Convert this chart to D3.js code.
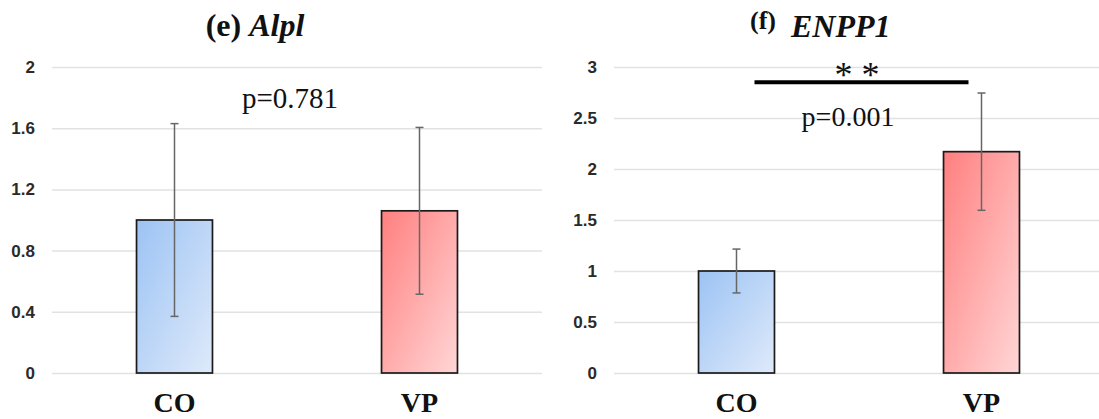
<!DOCTYPE html>
<html>
<head>
<meta charset="utf-8">
<script src="https://cdn.jsdelivr.net/npm/d3@7"></script>
<style>
  body { margin: 0; background: #fff; }
  svg { display: block; }
</style>
</head>
<body>
<svg id="chart"></svg>
<script>
const groups = ["CO", "VP"];
const alplMean = [1.0, 1.06];
const alplErr = [0.63, 0.545];
const alplTicks = [0, 0.4, 0.8, 1.2, 1.6, 2];
const enppMean = [1.0, 2.17];
const enppErr = [0.215, 0.575];
const enppTicks = [0, 0.5, 1, 1.5, 2, 2.5, 3];

const width = 1099;
const height = 419;
const serif = "Liberation Serif, Times New Roman, serif";

const svg = d3.select("#chart")
    .attr("width", width)
    .attr("height", height);

const defs = svg.append("defs");
const gradients = [
    { id: "grad-CO", from: "#9cc3f4", to: "#dfeafa" },
    { id: "grad-VP", from: "#ff7f7f", to: "#ffd6d6" }
];
gradients.forEach(g => {
    const lg = defs.append("linearGradient")
        .attr("id", g.id)
        .attr("x1", "0%").attr("y1", "0%")
        .attr("x2", "100%").attr("y2", "100%");
    lg.append("stop").attr("offset", "0%").attr("stop-color", g.from);
    lg.append("stop").attr("offset", "100%").attr("stop-color", g.to);
});

function panel(opts) {
    const x = d3.scaleBand()
        .domain(groups)
        .range(opts.xRange)
        .paddingInner(0.69)
        .paddingOuter(0.345);
    const y = d3.scaleLinear()
        .domain(opts.yDomain)
        .range([373, 67]);

    const g = svg.append("g");

    // gridlines + tick labels
    const yAxis = g.append("g")
        .attr("transform", `translate(${opts.xRange[0]},0)`)
        .call(d3.axisLeft(y)
            .tickValues(opts.ticks)
            .tickSize(-(opts.xRange[1] - opts.xRange[0]))
            .tickPadding(17)
            .tickFormat(d3.format("")));
    yAxis.select(".domain").remove();
    yAxis.selectAll(".tick line")
        .attr("stroke", "#e2e2e2")
        .attr("stroke-width", 1.5);
    yAxis.selectAll(".tick text")
        .attr("font-family", "Liberation Sans, Arial, sans-serif")
        .attr("font-size", 17)
        .attr("font-weight", "bold")
        .attr("fill", "#2a2a2a");

    // bars
    g.selectAll("rect.bar")
        .data(groups)
        .enter()
        .append("rect")
        .attr("class", "bar")
        .attr("x", d => x(d))
        .attr("width", x.bandwidth())
        .attr("y", (d, i) => y(opts.mean[i]))
        .attr("height", (d, i) => y(0) - y(opts.mean[i]))
        .attr("fill", d => `url(#grad-${d})`)
        .attr("stroke", "#1a1a1a")
        .attr("stroke-width", 1.7);

    // error bars
    const err = g.append("g")
        .attr("stroke", "#666")
        .attr("stroke-width", 1.5)
        .selectAll("g")
        .data(groups)
        .enter()
        .append("g");
    const cx = d => x(d) + x.bandwidth() / 2;
    err.append("line")
        .attr("x1", cx).attr("x2", cx)
        .attr("y1", (d, i) => y(opts.mean[i] + opts.err[i]))
        .attr("y2", (d, i) => y(opts.mean[i] - opts.err[i]));
    [1, -1].forEach(s => {
        err.append("line")
            .attr("x1", d => cx(d) - 4).attr("x2", d => cx(d) + 4)
            .attr("y1", (d, i) => y(opts.mean[i] + s * opts.err[i]))
            .attr("y2", (d, i) => y(opts.mean[i] + s * opts.err[i]));
    });

    // category labels
    g.selectAll("text.cat")
        .data(groups)
        .enter()
        .append("text")
        .attr("class", "cat")
        .attr("x", cx)
        .attr("y", 412)
        .attr("text-anchor", "middle")
        .attr("font-family", serif)
        .attr("font-weight", "bold")
        .attr("font-size", 28)
        .attr("fill", "#111")
        .text(d => d);

    return { g, x, y, cx };
}

// (e) Alpl
const left = panel({
    xRange: [52, 542],
    yDomain: [0, 2],
    ticks: alplTicks,
    mean: alplMean,
    err: alplErr
});
const titleL = left.g.append("text")
    .attr("x", 255)
    .attr("y", 36)
    .attr("text-anchor", "middle")
    .attr("font-family", serif)
    .attr("font-weight", "bold")
    .attr("font-size", 32)
    .attr("fill", "#111");
titleL.append("tspan").text("(e) ");
titleL.append("tspan").attr("font-style", "italic").text("Alpl");
left.g.append("text")
    .attr("x", 290)
    .attr("y", 108)
    .attr("text-anchor", "middle")
    .attr("font-family", serif)
    .attr("font-size", 29)
    .attr("fill", "#111")
    .text("p=0.781");

// (f) ENPP1
const right = panel({
    xRange: [614, 1104],
    yDomain: [0, 3],
    ticks: enppTicks,
    mean: enppMean,
    err: enppErr
});
right.g.append("text")
    .attr("x", 750)
    .attr("y", 29)
    .attr("font-family", serif)
    .attr("font-weight", "bold")
    .attr("font-size", 26)
    .attr("fill", "#111")
    .text("(f)");
right.g.append("text")
    .attr("x", 791)
    .attr("y", 37)
    .attr("font-family", serif)
    .attr("font-weight", "bold")
    .attr("font-style", "italic")
    .attr("font-size", 32)
    .attr("fill", "#111")
    .text("ENPP1");

right.g.append("line")
    .attr("x1", right.cx("CO") + 18)
    .attr("x2", right.cx("VP") - 13)
    .attr("y1", right.y(2.85))
    .attr("y2", right.y(2.85))
    .attr("stroke", "#000")
    .attr("stroke-width", 4);
right.g.append("text")
    .attr("x", 857)
    .attr("y", 87)
    .attr("text-anchor", "middle")
    .attr("font-family", serif)
    .attr("font-size", 36)
    .attr("fill", "#111")
    .attr("xml:space", "preserve")
    .style("white-space", "pre")
    .text("* *");
right.g.append("text")
    .attr("x", 848)
    .attr("y", 126)
    .attr("text-anchor", "middle")
    .attr("font-family", serif)
    .attr("font-size", 28)
    .attr("fill", "#111")
    .text("p=0.001");
</script>
</body>
</html>
